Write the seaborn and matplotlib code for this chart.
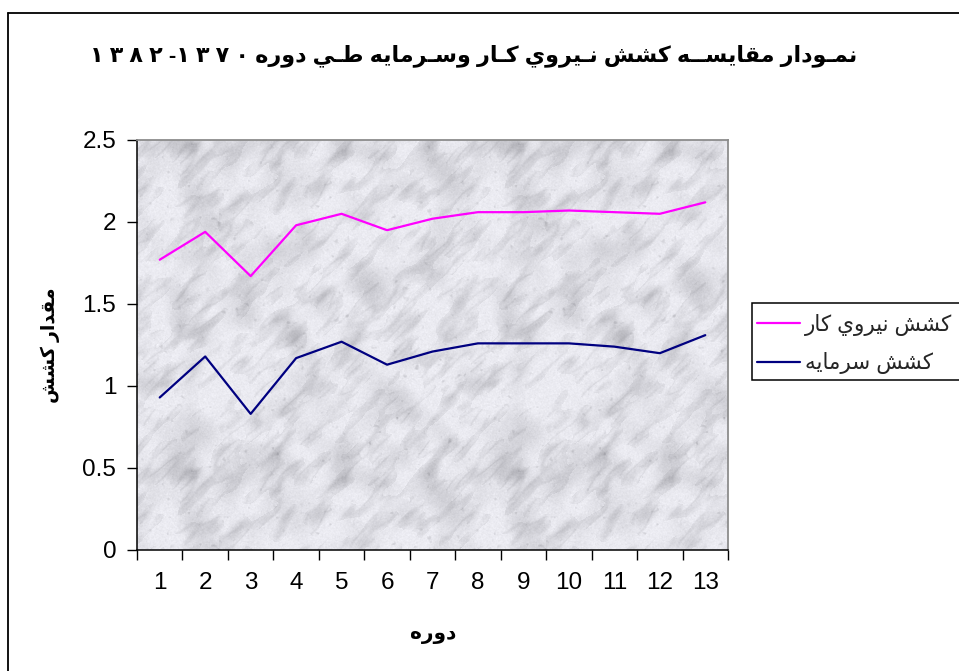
import re
import numpy as np
import pandas as pd
import seaborn as sns
import matplotlib
matplotlib.use("Agg")
import matplotlib.pyplot as plt
from matplotlib.lines import Line2D
from matplotlib.patches import Rectangle

# ---- data -------------------------------------------------------------
periods = list(range(1, 14))
labour_elasticity = [1.77, 1.94, 1.67, 1.98, 2.05, 1.95, 2.02, 2.06, 2.06, 2.07, 2.06, 2.05, 2.12]
capital_elasticity = [0.93, 1.18, 0.83, 1.17, 1.27, 1.13, 1.21, 1.26, 1.26, 1.26, 1.24, 1.20, 1.31]
series_names = ["كشش نيروي كار", "كشش سرمايه"]
y_ticks = [0, 0.5, 1, 1.5, 2, 2.5]
y_tick_labels = ["0", "0.5", "1", "1.5", "2", "2.5"]
title_text = "نمـودار مقايســه كشش نـيروي كـار وسـرمايه طـي دوره ١٣٧٠- ١٣٨٢"
x_label_text = "دوره"
y_label_text = "مقدار كشش"

# ---- minimal Arabic shaping (presentation forms + right-to-left order) --
FORMS = {
    "ا": ("\uFE8D", "\uFE8E", None, None),
    "د": ("\uFEA9", "\uFEAA", None, None),
    "ر": ("\uFEAD", "\uFEAE", None, None),
    "و": ("\uFEED", "\uFEEE", None, None),
    "ن": ("\uFEE5", "\uFEE6", "\uFEE7", "\uFEE8"),
    "م": ("\uFEE1", "\uFEE2", "\uFEE3", "\uFEE4"),
    "ق": ("\uFED5", "\uFED6", "\uFED7", "\uFED8"),
    "ي": ("\uFEF1", "\uFEF2", "\uFEF3", "\uFEF4"),
    "س": ("\uFEB1", "\uFEB2", "\uFEB3", "\uFEB4"),
    "ش": ("\uFEB5", "\uFEB6", "\uFEB7", "\uFEB8"),
    "ه": ("\uFEE9", "\uFEEA", "\uFEEB", "\uFEEC"),
    "ك": ("\uFED9", "\uFEDA", "\uFEDB", "\uFEDC"),
    "ط": ("\uFEC1", "\uFEC2", "\uFEC3", "\uFEC4"),
    "ـ": ("\u0640", "\u0640", "\u0640", "\u0640"),
}
DIGITS = "\u0660-\u0669"


def _dual(ch):
    return ch in FORMS and FORMS[ch][2] is not None


def rtl(text, digit_gap=""):
    out = []
    for i, ch in enumerate(text):
        if ch not in FORMS:
            out.append(ch)
            continue
        prev = text[i - 1] if i > 0 else ""
        nxt = text[i + 1] if i + 1 < len(text) else ""
        jp = _dual(prev)
        jn = _dual(ch) and nxt in FORMS
        idx = 3 if (jp and jn) else 1 if jp else 2 if jn else 0
        out.append(FORMS[ch][idx])
    shaped = "".join(out)
    runs = re.findall(f"[{DIGITS}]+|[^{DIGITS}]+", shaped)
    vis = []
    for r in runs[::-1]:
        if re.match(f"[{DIGITS}]", r):
            vis.append(digit_gap.join(r))
        else:
            vis.append(r[::-1])
    return "".join(vis)


# ---- marble plot-area fill -------------------------------------------
def marble_tile(n=327, seed=5):
    rng = np.random.default_rng(seed)
    ky = np.fft.fftfreq(n)[:, None]
    kx = np.fft.fftfreq(n)[None, :]
    u = (kx + ky) / np.sqrt(2)
    v = (kx - ky) / np.sqrt(2)

    def field(scale, aniso=1.0):
        w = rng.standard_normal((n, n))
        filt = np.exp(-((u * scale / aniso) ** 2 + (v * scale * aniso) ** 2))
        f = np.real(np.fft.ifft2(np.fft.fft2(w) * filt))
        return (f - f.mean()) / f.std()

    cloud = field(45)
    cloud2 = field(24, 1.5)
    veins = field(20, 2.0)
    spots = field(6)
    fine = field(2.0)
    val = (0.905
           - 0.035 * np.maximum(cloud, -0.5)
           - 0.035 * np.maximum(cloud2 - 0.2, 0)
           - 0.05 * np.exp(-(veins * 1.4) ** 2) * (cloud2 > -0.2)
           - 0.06 * np.maximum(spots - 1.8, 0)
           + 0.010 * fine)
    return np.clip(val, 0.64, 0.975)


# ---- figure -----------------------------------------------------------
sns.set_theme(style="white")
plt.rcParams["font.family"] = ["Liberation Sans", "DejaVu Sans"]

W, H = 959, 671
fig = plt.figure(figsize=(W / 100, H / 100), dpi=100)
fig.patch.set_facecolor("white")
ax = fig.add_axes([137 / W, 1 - 550 / H, 591 / W, 410 / H])

tile = marble_tile()
big = np.tile(tile, (2, 2))[:410, :591]
rgb = np.dstack([big, big, np.clip(big + 0.025, 0, 1)])
ax.imshow(rgb, extent=(0, 1, 0, 1), transform=ax.transAxes, aspect="auto",
          zorder=0, interpolation="bilinear")

names = [rtl(s) for s in series_names]
df = pd.DataFrame({
    "period": periods * 2,
    "value": labour_elasticity + capital_elasticity,
    "series": [names[0]] * len(periods) + [names[1]] * len(periods),
})
sns.lineplot(data=df, x="period", y="value", hue="series",
             palette={names[0]: "#FF00FF", names[1]: "#000080"},
             linewidth=1.6, ax=ax, sort=False, zorder=3)

ax.set_xlim(0.5, 13.5)
ax.set_ylim(0, 2.5)
ax.set_xlabel("")
ax.set_ylabel("")

# category axis: ticks between categories, labels at the centres
ax.set_xticks(np.arange(0.5, 13.6, 1))
ax.set_xticklabels([])
ax.set_xticks(periods, minor=True)
ax.set_xticklabels([str(p) for p in periods], minor=True)
ax.tick_params(axis="x", which="major", bottom=True, direction="out",
               length=7, width=1, color="black")
ax.tick_params(axis="x", which="minor", bottom=True, length=0, pad=16,
               labelsize=17.5, labelcolor="black")
ax.set_yticks(y_ticks)
ax.set_yticklabels(y_tick_labels)
ax.tick_params(axis="y", left=True, direction="out", length=7, width=1,
               color="black", pad=8, labelsize=17.5, labelcolor="black")

for side in ("left", "bottom"):
    ax.spines[side].set_color("black")
    ax.spines[side].set_linewidth(1.1)
for side in ("top", "right"):
    ax.spines[side].set_color("#8c8c8c")
    ax.spines[side].set_linewidth(1.3)

# legend
handles, labels = ax.get_legend_handles_labels()
ax.get_legend().remove()
fig.add_artist(Rectangle((752 / W, 1 - 380 / H), (990 - 752) / W, (380 - 303) / H,
                         transform=fig.transFigure, facecolor="white",
                         edgecolor="black", linewidth=1.1, clip_on=False))
fig.legend(handles, labels, loc="center left",
           bbox_to_anchor=(757 / W, 1 - 344 / H), frameon=False,
           fontsize=15.5, handlelength=2.0, handletextpad=0.25,
           labelspacing=0.75, borderpad=0, borderaxespad=0)

# texts
fig.text(474 / W, 1 - 56 / H, rtl(title_text, digit_gap=" "), ha="center",
         va="center", fontsize=16, fontweight="bold", color="black")
fig.text(433 / W, 1 - 634 / H, rtl(x_label_text), ha="center", va="center",
         fontsize=14.5, fontweight="bold", color="black")
fig.text(50 / W, 1 - 345 / H, rtl(y_label_text), ha="center", va="center",
         rotation=90, fontsize=13.5, fontweight="bold", color="black")

# chart-area border
fig.add_artist(Line2D([8 / W, 8 / W], [0, 1 - 13 / H], transform=fig.transFigure,
                      color="black", linewidth=1.3))
fig.add_artist(Line2D([8 / W, 1], [1 - 13 / H, 1 - 13 / H], transform=fig.transFigure,
                      color="black", linewidth=1.3))

fig.savefig("out.png", dpi=100)
